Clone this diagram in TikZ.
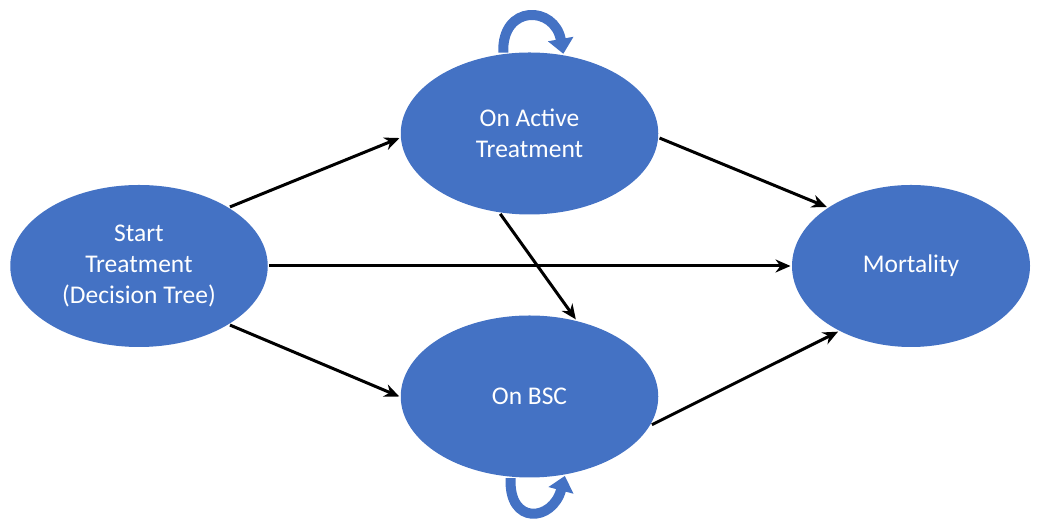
\documentclass[tikz,border=0pt]{standalone}
\usepackage{fontspec}
\setmainfont{Carlito}
\usetikzlibrary{arrows.meta,shapes.geometric}
\definecolor{stateblue}{HTML}{4472C4}
\tikzset{
    every node/.style={font=\fontsize{14.5}{17.5}\selectfont},
    main node/.style={ellipse,fill=stateblue,text=white,align=center,inner sep=0pt,minimum width=5.15cm,minimum height=3.24cm},
    loop arrow/.style={-{Triangle[width=0.5cm,length=0.3cm]},draw=stateblue,line width=0.2cm}
}

\begin{document}
\begin{tikzpicture}[->,>={Stealth[length=3mm,width=2.6mm]},line width=0.06cm]
    \useasboundingbox (0,0) rectangle (20.82,10.4);

    \node[main node] (start) at (2.78,5.08) {Start\\Treatment\\(Decision Tree)};
    \node[main node] (active) at (10.59,7.73) {On Active\\Treatment};
    \node[main node] (bsc) at (10.59,2.47) {On BSC};
    \node[main node,minimum width=4.76cm] (mort) at (18.22,5.08) {Mortality};

    \draw (start.33) -- (active.182);
    \draw (start.-33) -- (bsc.180);
    \draw (start.east) -- (mort.west);
    \draw (active.-2) -- (mort.145);
    \draw (active.-110) -- (bsc.59);
    \draw (bsc.-13) -- (mort.-138);

    % self loops
    \draw[loop arrow] (active.108) to[out=92,in=100,distance=0.98cm] (active.67);
    \draw[loop arrow] (bsc.-103) to[out=-93,in=-105,distance=0.95cm] (bsc.-66);
\end{tikzpicture}
\end{document}
